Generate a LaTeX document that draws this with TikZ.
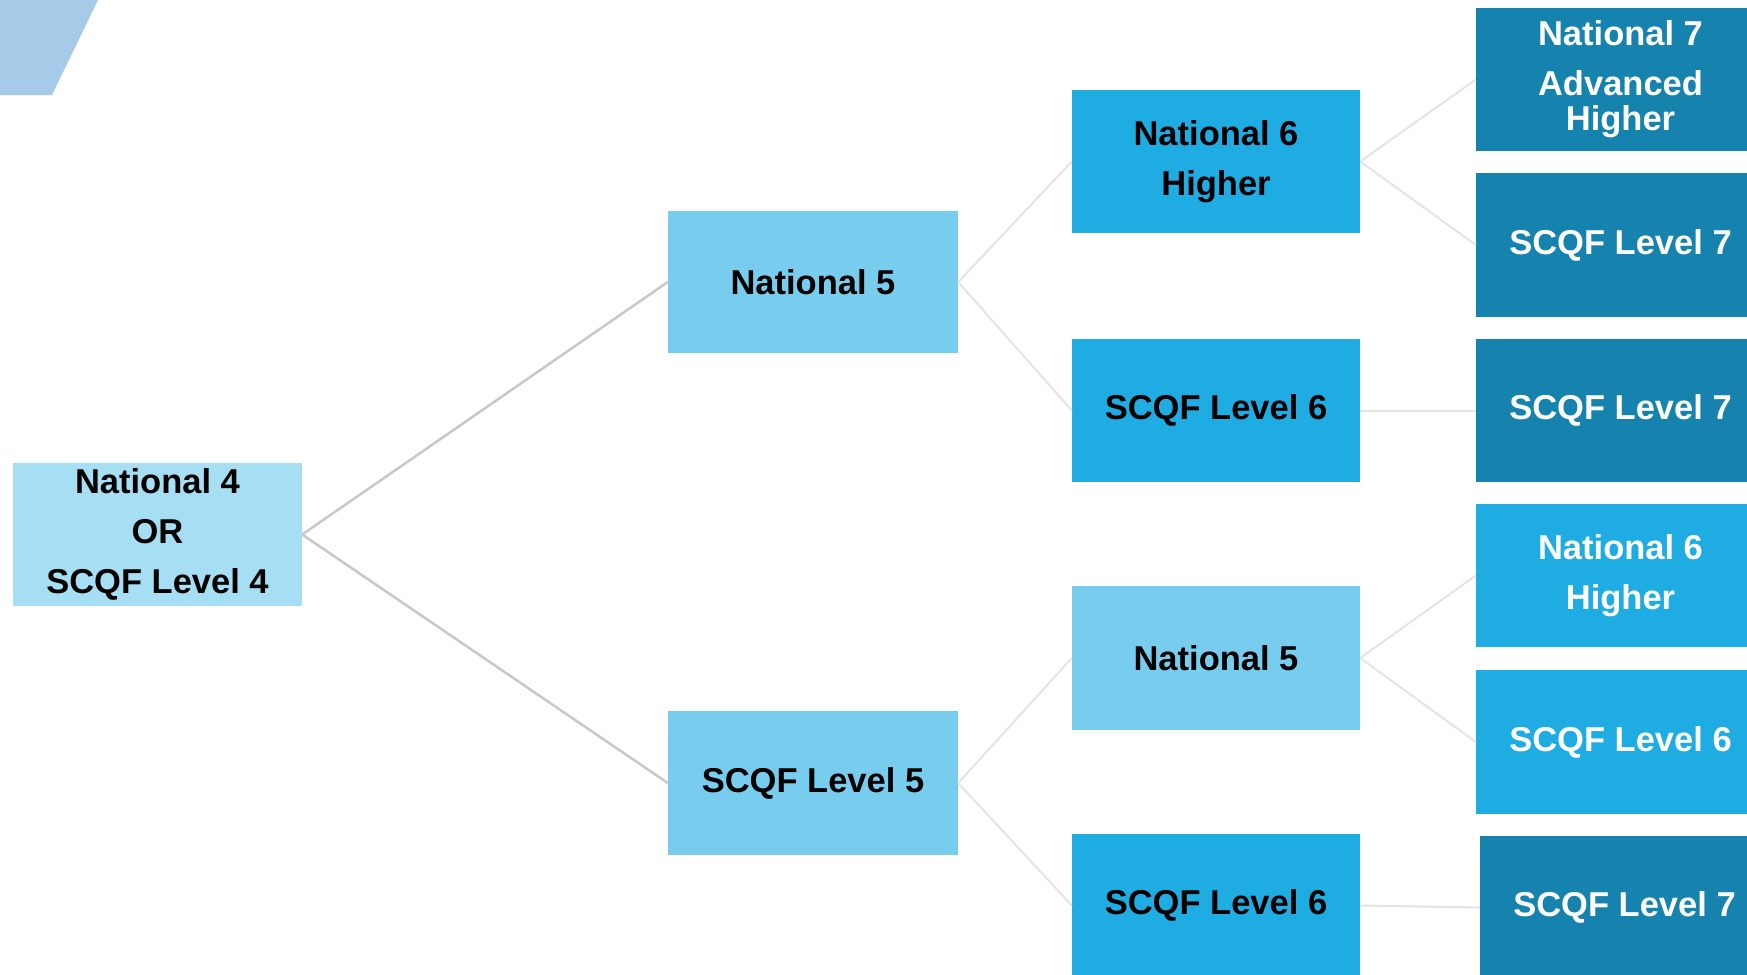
\documentclass[tikz,border=0pt]{standalone}
\usepackage{fontspec}
\setmainfont{Liberation Sans}
\definecolor{cdark}{HTML}{1682AE}
\definecolor{cmid}{HTML}{1EACE2}
\definecolor{clight}{HTML}{78CDEF}
\definecolor{cpale}{HTML}{A6DEF4}
\definecolor{ctrap}{HTML}{A5CBE8}
\definecolor{lineA}{HTML}{C8C8C8}
\definecolor{lineB}{HTML}{E4E4E4}
\begin{document}
\begin{tikzpicture}[x=1pt,y=-1pt,
  box/.style={rectangle,inner sep=0pt,minimum width=289pt,minimum height=143pt,align=center,
    font=\fontsize{34.5}{50}\selectfont\bfseries},
  palebox/.style={box,fill=cpale,text=black},
  lightbox/.style={box,fill=clight,text=black},
  midbox/.style={box,fill=cmid,text=black},
  midwbox/.style={box,fill=cmid,text=white},
  darkbox/.style={box,fill=cdark,text=white},
  linkA/.style={draw=lineA,line width=2.5pt},
  linkB/.style={draw=lineB,line width=2pt}]
\useasboundingbox (0,0) rectangle (1747,974);
\clip (0,0) rectangle (1747,974);
\fill[ctrap] (0,0) -- (98,0) -- (52,95) -- (0,95) -- cycle;
% nodes
\node[palebox] (n4) at (157.5,534.5) {National 4\\OR\\SCQF Level 4};
\node[lightbox,minimum width=290pt,minimum height=142pt] (n5a) at (813,282) {National 5};
\node[lightbox,minimum width=290pt,minimum height=144pt] (s5) at (813,783) {SCQF Level 5};
\node[midbox,minimum width=288pt] (n6a) at (1216,161.5) {\raisebox{0pt}{}National 6\\Higher};
\node[midbox,minimum width=288pt] (s6a) at (1216,410.5) {SCQF Level 6};
\node[lightbox,minimum width=288pt,minimum height=144pt] (n5b) at (1216,658) {National 5};
\node[midbox,minimum width=288pt] (s6b) at (1216,905.5) {SCQF Level 6};
\node[darkbox] (n7) at (1620.5,79.5) {National 7\\[0pt]Advanced\\[-15pt]Higher};
\node[darkbox,minimum height=144pt] (s7a) at (1620.5,245) {SCQF Level 7};
\node[darkbox] (s7b) at (1620.5,410.5) {SCQF Level 7};
\node[midwbox] (n6b) at (1620.5,575.5) {National 6\\Higher};
\node[midwbox,minimum height=144pt] (s6c) at (1620.5,742) {SCQF Level 6};
\node[darkbox] (s7c) at (1624.5,907.5) {SCQF Level 7};
% connectors
\draw[linkA] (n4.east) -- (n5a.west);
\draw[linkA] (n4.east) -- (s5.west);
\draw[linkB] (n5a.east) -- (n6a.west);
\draw[linkB] (n5a.east) -- (s6a.west);
\draw[linkB] (s5.east) -- (n5b.west);
\draw[linkB] (s5.east) -- (s6b.west);
\draw[linkB] (n6a.east) -- (n7.west);
\draw[linkB] (n6a.east) -- (s7a.west);
\draw[linkB] (s6a.east) -- (s7b.west);
\draw[linkB] (n5b.east) -- (n6b.west);
\draw[linkB] (n5b.east) -- (s6c.west);
\draw[linkB] (s6b.east) -- (s7c.west);
\end{tikzpicture}
\end{document}
